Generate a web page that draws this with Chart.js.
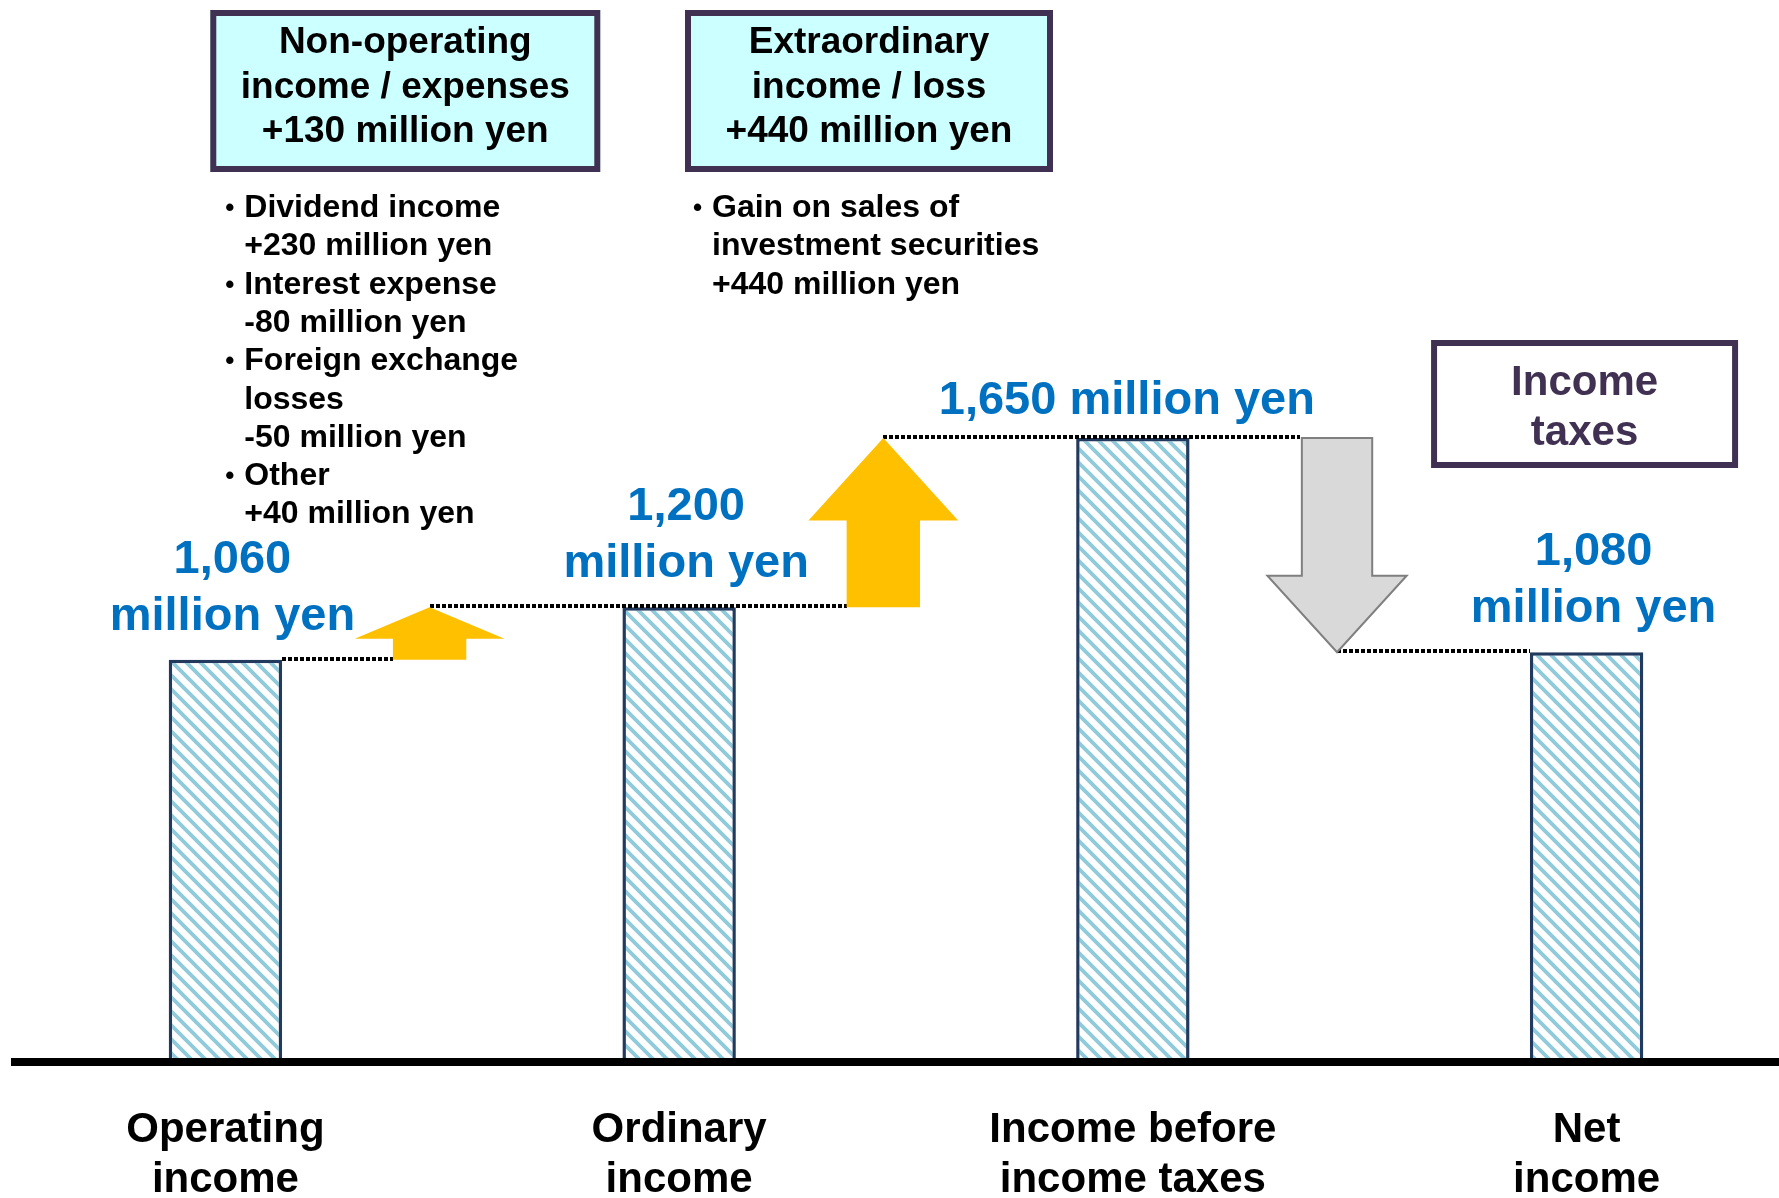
<!DOCTYPE html>
<html>
<head>
<meta charset="utf-8">
<script src="https://cdn.jsdelivr.net/npm/chart.js@4.4.1/dist/chart.umd.min.js"></script>
<style>
  html, body { margin: 0; padding: 0; background: #fff; }
  #wrap { width: 1779px; height: 1198px; }
</style>
</head>
<body>
<div id="wrap"><canvas id="waterfall"></canvas></div>
<script>
// slots: bars for the totals, empty slots in between hold the change arrows
const categories = [['Operating', 'income'], '', ['Ordinary', 'income'], '', ['Income before', 'income taxes'], '', ['Net', 'income']];
const totals = [1060, null, 1200, null, 1650, null, 1080];
const changes = [null, [1060, 1200], null, [1200, 1650], null, [1650, 1080], null];
const totalLabels = [['1,060', 'million yen'], null, ['1,200', 'million yen'], null, ['1,650 million yen'], null, ['1,080', 'million yen']];

const boxTexts = [
  ['Non-operating', 'income / expenses', '+130 million yen'],
  ['Extraordinary', 'income / loss', '+440 million yen'],
  ['Income', 'taxes']
];
const nonOpNotes = [
  ['Dividend income', '+230 million yen'],
  ['Interest expense', '-80 million yen'],
  ['Foreign exchange', 'losses', '-50 million yen'],
  ['Other', '+40 million yen']
];
const extraNotes = [
  ['Gain on sales of', 'investment securities', '+440 million yen']
];

const FONT = "'Liberation Sans', Arial, Helvetica, sans-serif";

const canvas = document.getElementById('waterfall');
const ctxMain = canvas.getContext('2d');

function hatch() {
  const s = 14;
  const c = document.createElement('canvas');
  c.width = s; c.height = s;
  const g = c.getContext('2d');
  g.fillStyle = '#ffffff';
  g.fillRect(0, 0, s, s);
  g.strokeStyle = '#8FCBDB';
  g.lineWidth = 3.8;
  g.beginPath();
  g.moveTo(0, 0); g.lineTo(s, s);
  g.moveTo(-s, 0); g.lineTo(s, 2 * s);
  g.moveTo(0, -s); g.lineTo(2 * s, s);
  g.stroke();
  return ctxMain.createPattern(c, 'repeat');
}

function arrow(ctx, cx, yFrom, yTo, headW, shaftW, fill, stroke) {
  const dy = Math.abs(yTo - yFrom);
  const headLen = Math.min(headW * 0.55, dy * 0.6);
  const dir = yTo < yFrom ? -1 : 1;
  const headBase = yTo - dir * headLen;
  ctx.beginPath();
  ctx.moveTo(cx - shaftW / 2, yFrom);
  ctx.lineTo(cx - shaftW / 2, headBase);
  ctx.lineTo(cx - headW / 2, headBase);
  ctx.lineTo(cx, yTo);
  ctx.lineTo(cx + headW / 2, headBase);
  ctx.lineTo(cx + shaftW / 2, headBase);
  ctx.lineTo(cx + shaftW / 2, yFrom);
  ctx.closePath();
  ctx.fillStyle = fill;
  ctx.fill();
  if (stroke) {
    ctx.strokeStyle = stroke;
    ctx.lineWidth = 2;
    ctx.stroke();
  }
}

function dotted(ctx, x1, x2, yy) {
  ctx.save();
  ctx.strokeStyle = '#000';
  ctx.lineWidth = 4;
  ctx.setLineDash([4, 2]);
  ctx.beginPath();
  ctx.moveTo(Math.round(x1), Math.round(yy) - 1);
  ctx.lineTo(Math.round(x2), Math.round(yy) - 1);
  ctx.stroke();
  ctx.restore();
}

function textBox(ctx, cx, top, w, h, fill, lines, color, size, firstBase, step) {
  ctx.fillStyle = fill;
  ctx.fillRect(cx - w / 2, top, w, h);
  ctx.strokeStyle = '#403152';
  ctx.lineWidth = 6;
  ctx.strokeRect(cx - w / 2 + 3, top + 3, w - 6, h - 6);
  ctx.fillStyle = color;
  ctx.font = 'bold ' + size + 'px ' + FONT;
  ctx.textAlign = 'center';
  ctx.textBaseline = 'alphabetic';
  lines.forEach((t, i) => ctx.fillText(t, cx, firstBase + i * step));
}

function notes(ctx, left, firstBase, items) {
  let row = 0;
  ctx.fillStyle = '#000';
  ctx.textAlign = 'left';
  ctx.textBaseline = 'alphabetic';
  items.forEach(item => {
    item.forEach((t, j) => {
      const yy = firstBase + row * 38.3;
      if (j === 0) {
        ctx.font = 'bold 26px ' + FONT;
        ctx.fillText('\u2022', left, yy - 1);
      }
      ctx.font = 'bold 32px ' + FONT;
      ctx.fillText(t, left + 19, yy);
      row++;
    });
  });
}

const waterfallDecor = {
  id: 'waterfallDecor',
  afterDatasetsDraw(chart) {
    const {ctx, scales: {x, y}} = chart;
    const bars = chart.getDatasetMeta(0).data;
    const steps = chart.getDatasetMeta(1).data;
    const y0 = y.getPixelForValue(0);
    // arrows sit a little left of their slot centre
    const shift = -0.1 * (x.getPixelForValue(1) - x.getPixelForValue(0));
    ctx.save();

    // thick base line across the whole width
    ctx.fillStyle = '#000';
    ctx.fillRect(11, Math.round(y0), chart.width - 11, 8);

    // dotted connectors
    let prevX = null;
    let last = -1;
    changes.forEach((c, i) => {
      if (!c) return;
      const el = steps[i];
      const ax = el.x + shift;
      const shaft = el.width * 0.49;
      const startX = prevX !== null ? prevX : bars[i - 1].x + bars[i - 1].width / 2;
      dotted(ctx, startX, ax - shaft / 2, y.getPixelForValue(c[0]));
      prevX = ax;
      last = i;
    });
    if (last >= 0 && bars[last + 1]) {
      const nb = bars[last + 1];
      dotted(ctx, prevX, nb.x - nb.width / 2, y.getPixelForValue(changes[last][1]));
    }

    // arrows
    changes.forEach((c, i) => {
      if (!c) return;
      const el = steps[i];
      const up = c[1] > c[0];
      arrow(ctx, el.x + shift, y.getPixelForValue(c[0]), y.getPixelForValue(c[1]),
        up ? el.width : el.width * 0.93, el.width * (up ? 0.49 : 0.47),
        up ? '#FFC000' : '#D9D9D9', up ? null : '#7F7F7F');
    });

    // value labels over the bars
    ctx.fillStyle = '#0070C0';
    ctx.font = 'bold 47px ' + FONT;
    ctx.textAlign = 'center';
    ctx.textBaseline = 'alphabetic';
    totalLabels.forEach((lab, i) => {
      if (!lab) return;
      const b = bars[i];
      if (lab.length === 1) {
        ctx.fillText(lab[0], b.x - 6, b.y - 24);
      } else {
        ctx.fillText(lab[0], b.x + 7, b.y - 87);
        ctx.fillText(lab[1], b.x + 7, b.y - 30);
      }
    });
    ctx.restore();
  },
  afterDraw(chart) {
    const {ctx, scales: {x}} = chart;
    const x1 = x.getPixelForValue(1);
    const x3 = x.getPixelForValue(3);
    const x6 = x.getPixelForValue(6);
    ctx.save();
    // explanation boxes
    const c1 = x1 - 47, c2 = x3 - 37;
    textBox(ctx, c1, 10, 390, 162, '#CCFFFF', boxTexts[0], '#000', 37, 53, 44.5);
    textBox(ctx, c2, 10, 368, 162, '#CCFFFF', boxTexts[1], '#000', 37, 53, 44.5);
    textBox(ctx, x6 - 2, 340, 307, 128, '#FFFFFF', boxTexts[2], '#403152', 42, 395, 50);
    // bullet notes under the boxes
    notes(ctx, c1 - 195 + 15, 217, nonOpNotes);
    notes(ctx, c2 - 184 + 8, 217, extraNotes);
    ctx.restore();
  }
};

const config = {
  type: 'bar',
  data: {
    labels: categories,
    datasets: [{
      label: 'Totals',
      data: totals,
      backgroundColor: hatch(),
      borderColor: '#223A5E',
      borderWidth: 3.5,
      borderSkipped: 'start',
      barPercentage: 0.5,
      categoryPercentage: 1,
      grouped: false
    }, {
      label: 'Changes',
      data: changes,
      backgroundColor: 'rgba(0,0,0,0)',
      borderWidth: 0,
      barPercentage: 0.66,
      categoryPercentage: 1,
      grouped: false
    }]
  },
  options: {
    responsive: true,
    maintainAspectRatio: false,
    animation: false,
    layout: {
      padding: {left: 112, right: 79, top: 6, bottom: -54}
    },
    plugins: {
      legend: {display: false},
      tooltip: {enabled: false},
      title: {display: false}
    },
    scales: {
      x: {
        grid: {display: false, drawTicks: false},
        border: {display: false},
        ticks: {
          color: '#000',
          font: {family: FONT, size: 42, weight: 'bold', lineHeight: 1.19},
          padding: 47,
          maxRotation: 0,
          minRotation: 0,
          autoSkip: false
        }
      },
      y: {
        display: false,
        min: 0,
        max: 2800
      }
    }
  },
  plugins: [waterfallDecor]
};

window.onload = function() {
  window.waterfallChart = new Chart(ctxMain, config);
};
</script>
</body>
</html>
